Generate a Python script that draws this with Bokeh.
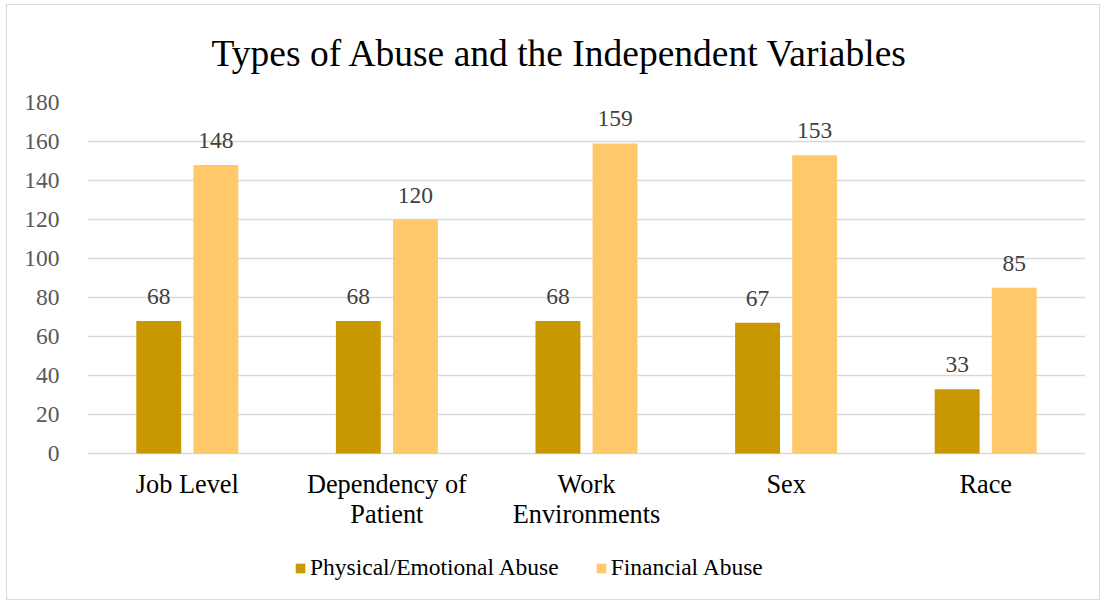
from bokeh.plotting import figure
from bokeh.models import ColumnDataSource, LabelSet, Legend, LegendItem, Range1d, FactorRange
from bokeh.transform import dodge
from bokeh.core.properties import value
from bokeh.embed import file_html
from bokeh.resources import INLINE

categories = ["Job Level", "Dependency of\nPatient", "Work\nEnvironments", "Sex", "Race"]
physical_emotional = [68, 68, 68, 67, 33]
financial = [148, 120, 159, 153, 85]
series_names = ["Physical/Emotional Abuse", "Financial Abuse"]
colors = ["#C99700", "#FFC86A"]
y_ticks = [0, 20, 40, 60, 80, 100, 120, 140, 160, 180]

src = ColumnDataSource(dict(cat=categories, pe=physical_emotional, fin=financial,
                            base=[0] * len(categories),
                            pe_s=[str(v) for v in physical_emotional],
                            fin_s=[str(v) for v in financial]))

SERIF = "Liberation Serif"
PX_PER_UNIT = 351 / 180.0
FRAME_H = 491
Y_START = -(FRAME_H - 351) / PX_PER_UNIT

p = figure(x_range=FactorRange(*categories), y_range=Range1d(Y_START, 180),
           frame_width=998, frame_height=FRAME_H, output_backend="svg", toolbar_location=None,
           title="Types of Abuse and the Independent Variables",
           min_border_left=80, min_border_right=14, min_border_top=97, min_border_bottom=6)

p.styles = {"border": "1px solid #d9d9d9", "margin-left": "6px", "margin-top": "4px"}

p.title.text_font = SERIF
p.title.text_font_size = "37.5px"
p.title.text_font_style = "normal"
p.title.text_color = "#000000"
p.title.align = "left"
p.title.vertical_align = "top"
p.title.offset = 124
p.title.standoff = 54

r1 = p.vbar(x=dodge("cat", -0.143, range=p.x_range), top="pe", bottom="base", width=0.225,
            source=src, fill_color=colors[0], line_color=None)
r2 = p.vbar(x=dodge("cat", 0.143, range=p.x_range), top="fin", bottom="base", width=0.225,
            source=src, fill_color=colors[1], line_color=None)

for col, lab, off in (("pe", "pe_s", -0.143), ("fin", "fin_s", 0.143)):
    ls = LabelSet(x=dodge("cat", off, range=p.x_range), y=col, text=lab, source=src,
                  text_align="center", text_baseline="alphabetic", y_offset=17,
                  text_font=SERIF, text_font_size="23.5px", text_color="#404040")
    p.add_layout(ls)

# category labels under the baseline
p.text(x="cat", y="base", text="cat", source=src, text_align="center", text_baseline="top",
       y_offset=16, text_font=value(SERIF), text_font_size="26.3px", text_color="#000000",
       text_line_height=1.05)

p.outline_line_color = None
p.xgrid.grid_line_color = None
p.ygrid.grid_line_color = "#d9d9d9"
p.ygrid.grid_line_width = 1.5
p.yaxis.ticker = y_ticks
p.ygrid.ticker = y_ticks
p.yaxis.axis_line_color = None
p.yaxis.major_tick_line_color = None
p.yaxis.minor_tick_line_color = None
p.yaxis.major_label_text_font = SERIF
p.yaxis.major_label_text_font_size = "23.5px"
p.yaxis.major_label_text_color = "#595959"
p.yaxis.major_label_standoff = 22

p.xaxis.visible = False
p.x_range.range_padding = 0.0
p.x_range.group_padding = 0.0

legend = Legend(items=[LegendItem(label=series_names[0], renderers=[r1]),
                       LegendItem(label=series_names[1], renderers=[r2])],
                orientation="horizontal", location=(207, 12),
                label_text_font=SERIF, label_text_font_size="23.5px", label_text_color="#000000",
                glyph_width=12, glyph_height=12, spacing=36, label_standoff=4,
                border_line_color=None, background_fill_alpha=0, margin=0, padding=0)
p.add_layout(legend, "center")

open("out.html", "w").write(file_html(p, INLINE))
